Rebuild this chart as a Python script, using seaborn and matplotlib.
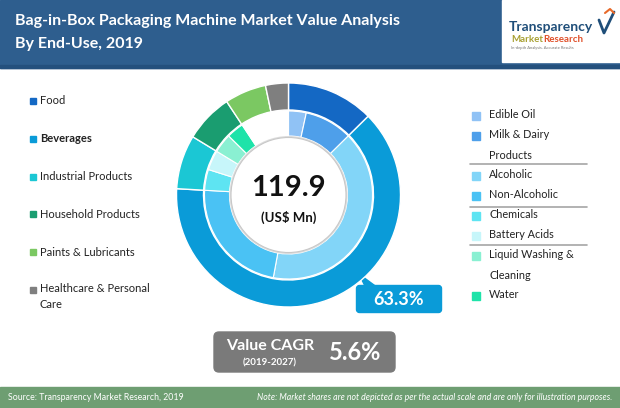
import numpy as np
import matplotlib
matplotlib.use("Agg")
import matplotlib.pyplot as plt
from matplotlib.patches import Rectangle, FancyBboxPatch, Circle, Polygon
import seaborn as sns

# end-use segments (outer ring), share in %
end_uses = ["Food", "Beverages", "Industrial Products", "Household Products",
            "Paints & Lubricants", "Healthcare & Personal\nCare"]
end_use_share = [12.6, 63.3, 7.8, 7.0, 6.0, 3.3]
end_use_colors = ["#1468C4", "#0A9BD8", "#1BC7D4", "#1A9D70", "#7BC862", "#7F7F7F"]

# sub-segments (inner ring); blank part = segments without split
sub_segments = ["Edible Oil", "Milk & Dairy\nProducts", "Alcoholic", "Non-Alcoholic",
                "Chemicals", "Battery Acids", "Liquid Washing &\nCleaning", "Water"]
sub_share = [3.4, 9.2, 40.3, 23.0, 4.0, 3.8, 3.7, 3.3]
sub_colors = ["#90C2F5", "#4E9FEA", "#82D5F8", "#4AC2F4", "#5EE4F2", "#C7F6FA", "#8AF0D2", "#1EE3A9"]
blank_share = 100 - sum(sub_share)

market_value = "119.9"
beverages_label = "63.3%"
cagr = "5.6%"

sns.set_theme(style="white")
plt.rcParams["font.family"] = ["Lato", "DejaVu Sans"]

W, H = 620, 408
fig = plt.figure(figsize=(W / 100, H / 100), dpi=100)
bg = fig.add_axes([0, 0, 1, 1])
bg.set_xlim(0, W)
bg.set_ylim(H, 0)
bg.axis("off")

# header
bg.add_patch(Rectangle((0, 0), W, 68, color="#2E5E8E", zorder=1))
bg.add_patch(Rectangle((0, 65), W, 3, color="#24507D", zorder=2))
bg.add_patch(Rectangle((502, 0), 118, 62, color="white", zorder=2))
bg.text(15, 21, "Bag-in-Box Packaging Machine Market Value Analysis", color="white",
        fontsize=11.5, fontweight="bold", va="center", zorder=3)
bg.text(15, 44, "By End-Use, 2019", color="white", fontsize=11.5, fontweight="bold",
        va="center", zorder=3)

# logo
bg.text(509, 27, "Transparency", color="#1F4E79", fontsize=10, fontweight="bold",
        va="center", zorder=3)
bg.text(511, 40, "Market", color="#A8A032", fontsize=7, fontweight="bold", va="center", zorder=3)
bg.text(543, 40, "Research", color="#E0502A", fontsize=7, fontweight="bold", va="center", zorder=3)
bg.text(511, 48.5, "In-depth Analysis. Accurate Results", color="#777777", fontsize=3,
        va="center", zorder=3)
bg.plot([599, 604, 614], [20, 33, 12], color="#1F4E79", lw=2, zorder=3)
bg.plot([605, 610, 614], [13, 9, 13], color="#E86A2A", lw=1.5, zorder=3)

# footer
bg.add_patch(Rectangle((0, 387), W, 21, color="#6E9E72", zorder=1))
bg.text(8, 397.5, "Source: Transparency Market Research, 2019", color="white",
        fontsize=6.3, va="center", zorder=3)
bg.text(612, 397.5, "Note: Market shares are not depicted as per the actual scale and are only for illustration purposes.",
        color="white", fontsize=6.3, style="italic", va="center", ha="right", zorder=3)

# left legend
left_y = [101, 139, 177, 214, 252, 290]
for name, col, y in zip(end_uses, end_use_colors, left_y):
    bg.add_patch(Rectangle((30, y - 3), 6, 6, color=col, zorder=3))
    multi = "\n" in name
    bg.text(40, y - 7 if multi else y, name, fontsize=8, color="#222222",
            va="top" if multi else "center",
            fontweight="bold" if name == "Beverages" else "normal",
            linespacing=1.5, zorder=3)

# right legend
right_y = [116, 136, 176, 196, 216, 236, 256, 296]
for name, col, y in zip(sub_segments, sub_colors, right_y):
    bg.add_patch(Rectangle((472, y - 4), 8, 8, color=col, zorder=3))
    bg.text(489, y - 7, name, fontsize=7.8, color="#222222", va="top", linespacing=2.1, zorder=3)
for y in [164, 207, 245]:
    bg.plot([470, 587], [y, y], color="#A6A6A6", lw=1.2, zorder=3)

# 63.3% callout
bg.add_patch(FancyBboxPatch((358, 287), 82, 24, boxstyle="round,pad=1.5,rounding_size=3",
                            color="#0A9BD8", zorder=3))
bg.add_patch(Polygon([[359, 274], [366, 288], [378, 288]], closed=True, color="#0A9BD8", zorder=3))
bg.text(399, 299.5, beverages_label, fontsize=13, fontweight="bold", color="white",
        ha="center", va="center", zorder=4)

# CAGR box
bg.add_patch(FancyBboxPatch((215, 333), 179, 38, boxstyle="round,pad=1,rounding_size=5",
                            color="#7A7A7A", zorder=3))
bg.text(270, 346, "Value CAGR", fontsize=11.5, fontweight="bold", color="white",
        ha="center", va="center", zorder=4)
bg.text(270, 363, "(2019-2027)", fontsize=7, fontweight="bold", color="white",
        ha="center", va="center", zorder=4)
bg.text(355, 352, cagr, fontsize=17, fontweight="bold", color="white",
        ha="center", va="center", zorder=4)

# donut
cx, cy, R = 288.5, 195, 112
pad = 116
ax = fig.add_axes([(cx - pad) / W, (H - cy - pad) / H, 2 * pad / W, 2 * pad / H])
ax.pie(end_use_share, colors=end_use_colors, radius=R, startangle=90, counterclock=False,
       wedgeprops=dict(width=27, edgecolor="white", linewidth=1))
ax.pie(sub_share + [blank_share], colors=sub_colors + ["white"], radius=84, startangle=90,
       counterclock=False, wedgeprops=dict(width=25, edgecolor="white", linewidth=0.8))
ax.add_patch(Circle((0, 0), 59, facecolor="#DDDDDD", edgecolor="none", zorder=4))
ax.add_patch(Circle((0, 0), 57.5, facecolor="white", edgecolor="#C8C8C8", lw=0.8, zorder=4))
ax.text(0, 7, market_value, fontsize=21, fontweight="bold", color="#111111",
        ha="center", va="center", zorder=5)
ax.text(0, -22, "(US$ Mn)", fontsize=9.5, fontweight="bold", color="#111111",
        ha="center", va="center", zorder=5)
ax.set_xlim(-pad, pad)
ax.set_ylim(-pad, pad)
ax.set_aspect("equal")
ax.axis("off")

fig.savefig("out.png", dpi=100)
